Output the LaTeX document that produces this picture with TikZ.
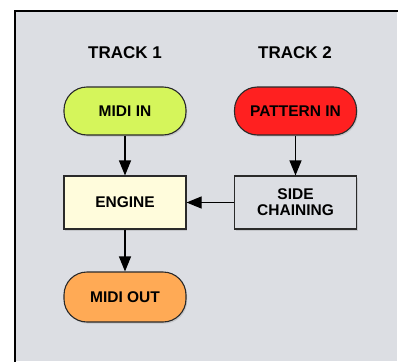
\documentclass[tikz,border=0pt]{standalone}
\usepackage{fontspec}
\setmainfont{Liberation Sans}
\usetikzlibrary{arrows.meta,shadows}
\definecolor{bg}{HTML}{DCDEE3}
\definecolor{lime}{HTML}{D5F55B}
\definecolor{redp}{HTML}{FF2020}
\definecolor{cream}{HTML}{FFFCDC}
\definecolor{orangep}{HTML}{FFAA55}
\definecolor{edge}{HTML}{2A2A2A}
\tikzset{
  pill/.style={draw=edge, line width=1.1pt, rounded corners=23pt, minimum width=122pt, minimum height=48pt,
    font=\fontsize{15.5}{17}\selectfont\bfseries, align=center,
    drop shadow={shadow xshift=1.2pt, shadow yshift=-1.6pt, opacity=0.25}},
  boxn/.style={draw=edge, line width=1.1pt, minimum width=122pt, minimum height=53pt,
    font=\fontsize{15.5}{17}\selectfont\bfseries, align=center,
    drop shadow={shadow xshift=1.2pt, shadow yshift=-1.6pt, opacity=0.25}},
  title/.style={font=\fontsize{17}{19}\selectfont\bfseries},
  conn/.style={line width=1.1pt, -{Triangle[length=15pt,width=12pt]}}
}
\begin{document}
\begin{tikzpicture}[x=1pt,y=-1pt]
\useasboundingbox (0,0) rectangle (398,361);
\fill[white] (0,0) rectangle (398,361);
\fill[bg] (15,11) rectangle (397,361);
\draw[line width=2.4pt, black] (15,362) -- (15,11) -- (398,11);
\node[title] (t1) at (125,53) {TRACK 1};
\node[title] (t2) at (295,53) {TRACK 2};
\node[pill, fill=lime] (midiin) at (125,111) {MIDI IN};
\node[pill, fill=redp] (patin) at (295.5,111) {PATTERN IN};
\node[boxn, fill=cream] (engine) at (125,202.5) {ENGINE};
\node[boxn, fill=bg] (side) at (295.5,202.5) {SIDE\\[-1pt]CHAINING};
\node[pill, fill=orangep, minimum height=50pt] (midiout) at (125,297) {MIDI OUT};
\draw[conn] (midiin) -- (engine);
\draw[conn] (patin) -- (side);
\draw[conn] (side) -- (engine);
\draw[conn] (engine) -- (midiout);
\end{tikzpicture}
\end{document}
